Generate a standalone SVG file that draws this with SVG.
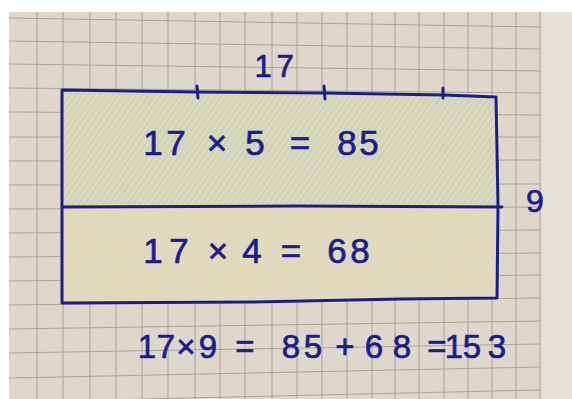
<svg xmlns="http://www.w3.org/2000/svg" width="572" height="399" viewBox="0 0 572 399">
  <style>
    .grid { stroke: #a39b8e; stroke-width: 1; fill: none; opacity: 0.85; }
    .ink { stroke: #1c1d8c; stroke-width: 3; fill: none; stroke-linecap: round; stroke-linejoin: round; }
    .txt { font-family: "Liberation Sans", "DejaVu Sans", sans-serif; fill: #1c1d8c; stroke: #1c1d8c; stroke-width: 0.7; stroke-linejoin: round; text-anchor: middle; }
    .big { font-size: 35px; }
    .eq { font-size: 33px; }
  </style>
  <defs>
    <pattern id="hatchGreen" patternUnits="userSpaceOnUse" width="5" height="5" patternTransform="rotate(35)">
      <rect width="5" height="5" fill="#d9d7c2"/>
      <line x1="1.5" y1="0" x2="1.5" y2="5" stroke="#bccb8e" stroke-width="1.3" opacity="0.6"/>
    </pattern>
    <pattern id="hatchYellow" patternUnits="userSpaceOnUse" width="5" height="5" patternTransform="rotate(35)">
      <rect width="5" height="5" fill="#dfd9c6"/>
      <line x1="1.5" y1="0" x2="1.5" y2="5" stroke="#e6da8c" stroke-width="1.3" opacity="0.6"/>
    </pattern>
  </defs>

  <!-- paper -->
  <rect x="0" y="0" width="572" height="399" fill="#ffffff"/>
  <rect x="9" y="12" width="563" height="387" fill="#e6e1d8"/>
  <rect x="9" y="12" width="533" height="387" fill="#ded7cc"/>

  <!-- grid -->
  <g id="grid" class="grid">
    <path d="M37,12V399 M63,12V399 M90,12V399 M116,12V399 M142,12V399 M168,12V399 M195,12V399 M220,12V399 M245,12V399 M272,12V399 M297,12V399 M322,12V399 M347,12V399 M372,12V399 M395,12V399 M419,12V399 M444,12V399 M468,12V399 M492,12V399 M516,12V399 M540,12V399"/>
    <path d="M9,18L540,27 M9,41L540,49 M9,64L540,71 M9,88L540,93 M9,112L540,115 M9,137L540,137 M9,161L540,160 M9,185L540,184 M9,209L540,207 M9,233L540,230 M9,257L540,253 M9,281L540,275 M9,305L540,298 M9,329L540,321 M9,353L540,344 M9,378L540,367 M9,402L540,390"/>
  </g>

  <!-- regions -->
  <g id="top-region">
    <path d="M62,90 L197,92 L324,93 L444,95 L496,97 L498,207 L62,207 Z" fill="url(#hatchGreen)"/>
    <text class="txt big" x="153 176 195 217 235 255 275 300 320 347 369" y="155">17 × 5 = 85</text>
  </g>
  <g id="bottom-region">
    <path d="M62,207 L498,207 L497,298 L400,299 L250,302 L62,303 Z" fill="url(#hatchYellow)"/>
    <text class="txt big" x="153 179 198 218 235 252 271 291 312 337 360" y="263">17 × 4 = 68</text>
  </g>

  <!-- outline and ticks -->
  <g id="connectors">
    <path class="ink" d="M62,90 L197,92 L324,93 L444,95 L496,97 L497,150 L498,207 L497,298 L400,299 L250,302 L62,303 Z"/>
    <path class="ink" d="M62,207 L300,206 L502,207"/>
    <path class="ink" d="M197,86 L198,98 M324,86 L325,99 M443,88 L443,98"/>
  </g>

  <g id="width-label">
    <text class="txt" font-size="31" x="263 285" y="77">17</text>
  </g>
  <g id="height-label">
    <text class="txt" font-size="32" x="535" y="212">9</text>
  </g>
  <g id="equation">
    <text class="txt eq" x="147 166 186 208 226 245 268 291 313 329 345 360 374 402 420 437 454 472 497" y="358">17×9 = 85 + 68 =153</text>
  </g>
</svg>
